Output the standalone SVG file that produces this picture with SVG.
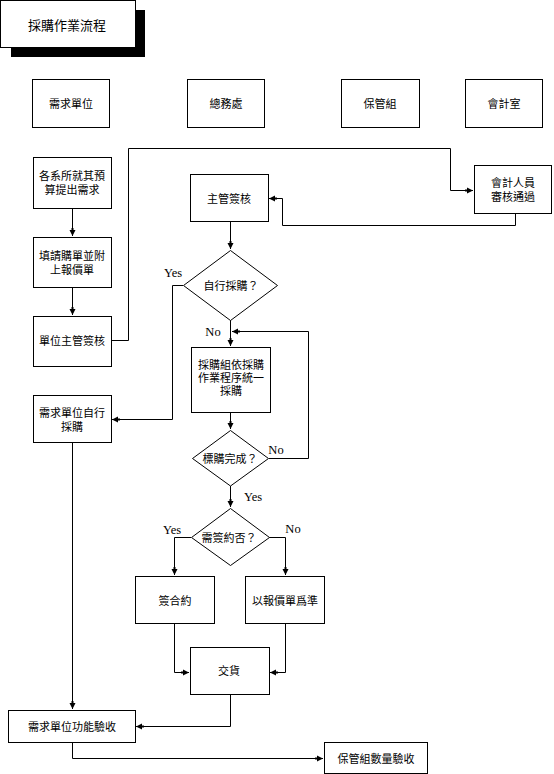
<svg xmlns="http://www.w3.org/2000/svg" width="554" height="774" viewBox="0 0 554 774">
<style>
.box{fill:#fff;stroke:#000;stroke-width:1}
.t{font-family:"Noto Sans CJK TC","Noto Sans CJK SC",sans-serif;font-size:11px;fill:#000;text-anchor:middle;dominant-baseline:central}
.lb{font-family:"Liberation Serif",serif;font-size:12.5px;fill:#000;text-anchor:middle;dominant-baseline:central}
.c{fill:none;stroke:#000;stroke-width:1}
</style>
<defs>
<marker id="ah" viewBox="0 0 8 8" markerWidth="8" markerHeight="8" refX="8" refY="4" orient="auto" markerUnits="userSpaceOnUse">
<path d="M0,3 L2,3 L2,1 L8,4 L2,7 L2,5 L0,5 z" fill="#000"/>
</marker>
</defs>
<rect width="554" height="774" fill="#fff"/>

<g id="title">
<rect x="11" y="10" width="134" height="47" fill="#000"/>
<rect class="box" x="0.5" y="0.5" width="135" height="47"/>
<text class="t" x="67" y="24" style="font-size:13px">採購作業流程</text>
</g>

<g id="h1"><rect class="box" x="32.5" y="79.5" width="77" height="48"/><text class="t" x="71" y="103">需求單位</text></g>
<g id="h2"><rect class="box" x="187.5" y="79.5" width="77" height="48"/><text class="t" x="226" y="103">總務處</text></g>
<g id="h3"><rect class="box" x="341.5" y="79.5" width="78" height="48"/><text class="t" x="380" y="103">保管組</text></g>
<g id="h4"><rect class="box" x="465.5" y="79.5" width="77" height="48"/><text class="t" x="504" y="103">會計室</text></g>

<g id="connectors">
<path class="c" d="M72.5,208 V236" marker-end="url(#ah)"/>
<path class="c" d="M72.5,287 V315" marker-end="url(#ah)"/>
<path class="c" d="M111,340.5 H128.5 V148.5 H450.5 V190.5 H473" marker-end="url(#ah)"/>
<path class="c" d="M515.5,213 V225.5 H282.5 V198.5 H269" marker-end="url(#ah)"/>
<path class="c" d="M230.5,221 V249" marker-end="url(#ah)"/>
<path class="c" d="M183,285.5 H172.5 V419.5 H112" marker-end="url(#ah)"/>
<path class="c" d="M230.5,320 V346" marker-end="url(#ah)"/>
<path class="c" d="M230.5,412 V429" marker-end="url(#ah)"/>
<path class="c" d="M269,458.5 H308.5 V331.5 H232" marker-end="url(#ah)"/>
<path class="c" d="M230.5,486 V507" marker-end="url(#ah)"/>
<path class="c" d="M191,537.5 H174.5 V575" marker-end="url(#ah)"/>
<path class="c" d="M269,537.5 H285.5 V575" marker-end="url(#ah)"/>
<path class="c" d="M174.5,623 V672.5 H189" marker-end="url(#ah)"/>
<path class="c" d="M285.5,623 V672.5 H270" marker-end="url(#ah)"/>
<path class="c" d="M230.5,694 V726.5 H136" marker-end="url(#ah)"/>
<path class="c" d="M72.5,442 V709" marker-end="url(#ah)"/>
<path class="c" d="M72.5,742 V758.5 H323" marker-end="url(#ah)"/>
<text class="lb" x="173" y="273">Yes</text>
<text class="lb" x="213" y="332">No</text>
<text class="lb" x="276" y="450">No</text>
<text class="lb" x="253" y="497">Yes</text>
<text class="lb" x="172" y="530">Yes</text>
<text class="lb" x="293" y="529">No</text>
</g>

<g id="n1"><rect class="box" x="33.5" y="157.5" width="78" height="51"/><text class="t" x="72" y="175">各系所就其預</text><text class="t" x="72" y="189">算提出需求</text></g>
<g id="n2"><rect class="box" x="33.5" y="237.5" width="78" height="50"/><text class="t" x="72" y="255">填請購單並附</text><text class="t" x="72" y="269">上報價單</text></g>
<g id="n3"><rect class="box" x="33.5" y="316.5" width="78" height="50"/><text class="t" x="72" y="340">單位主管簽核</text></g>
<g id="n4"><rect class="box" x="190.5" y="174.5" width="78" height="47"/><text class="t" x="229" y="198">主管簽核</text></g>
<g id="n5"><rect class="box" x="474.5" y="165.5" width="77" height="48"/><text class="t" x="513" y="182">會計人員</text><text class="t" x="513" y="196">審核通過</text></g>
<g id="d1"><polygon class="box" points="230.5,250.5 277.5,285.5 230.5,320.5 183.5,285.5"/><text class="t" x="231" y="285">自行採購？</text></g>
<g id="n6"><rect class="box" x="191.5" y="347.5" width="79" height="65"/><text class="t" x="231" y="364">採購組依採購</text><text class="t" x="231" y="377">作業程序統一</text><text class="t" x="231" y="390">採購</text></g>
<g id="d2"><polygon class="box" points="230.5,430.5 268.5,458.5 230.5,486 192.5,458.5"/><text class="t" x="230" y="458">標購完成？</text></g>
<g id="n7"><rect class="box" x="33.5" y="395.5" width="78" height="47"/><text class="t" x="72" y="412">需求單位自行</text><text class="t" x="72" y="426">採購</text></g>
<g id="d3"><polygon class="box" points="230.5,508.5 269.5,537.5 230.5,565.5 191.5,537.5"/><text class="t" x="229" y="537">需簽約否？</text></g>
<g id="n8"><rect class="box" x="135.5" y="576.5" width="79" height="47"/><text class="t" x="175" y="600">簽合約</text></g>
<g id="n9"><rect class="box" x="245.5" y="576.5" width="79" height="47"/><text class="t" x="285" y="600">以報價單爲準</text></g>
<g id="n10"><rect class="box" x="190.5" y="647.5" width="79" height="47"/><text class="t" x="229" y="670">交貨</text></g>
<g id="n11"><rect class="box" x="8.5" y="710.5" width="127" height="32"/><text class="t" x="72" y="726">需求單位功能驗收</text></g>
<g id="n12"><rect class="box" x="324.5" y="742.5" width="103" height="31"/><text class="t" x="376" y="758">保管組數量驗收</text></g>
</svg>
